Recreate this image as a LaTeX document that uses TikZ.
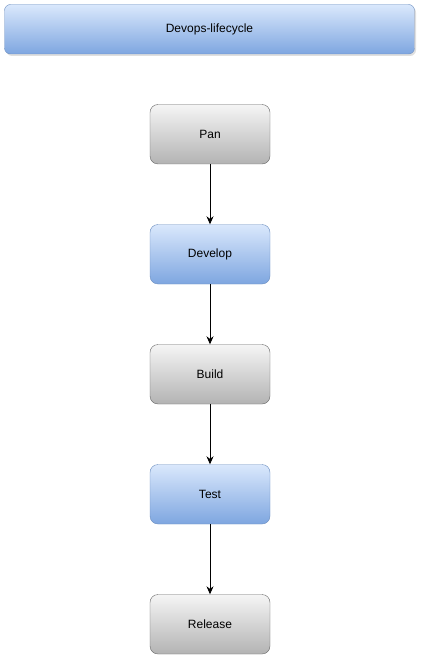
\documentclass[tikz,border=0pt]{standalone}
\usepackage{fontspec}
\setmainfont{Liberation Sans}
\usetikzlibrary{arrows.meta}
\usetikzlibrary{shadows}
\definecolor{bluetop}{HTML}{DAE8FC}
\definecolor{bluebot}{HTML}{7EA6E0}
\definecolor{blueline}{HTML}{6C8EBF}
\definecolor{graytop}{HTML}{F5F5F5}
\definecolor{graybot}{HTML}{B3B3B3}
\definecolor{grayline}{HTML}{666666}
\tikzstyle{stagebox}=[rectangle,rounded corners=8pt,minimum width=120pt,minimum height=59.5pt,inner sep=0pt,font=\fontsize{12}{14}\selectfont]
\tikzstyle{bluestage}=[stagebox,draw=blueline,top color=bluetop,bottom color=bluebot]
\tikzstyle{graystage}=[stagebox,draw=grayline,top color=graytop,bottom color=graybot]
\tikzstyle{flow}=[-{Stealth[length=8pt,width=7pt]},line width=0.8pt]
\begin{document}
\begin{tikzpicture}[x=1pt,y=-1pt]
\useasboundingbox (0,0) rectangle (422,655);
	% title bar
	\node[bluestage,minimum width=410pt,minimum height=49.5pt,rounded corners=6pt,
	      drop shadow={shadow xshift=1.5pt,shadow yshift=-2pt,opacity=0.25}] (title) at (209.5,29.25) {Devops-lifecycle};
	% stages
	\node[graystage] (pan) at (210,134.25) {Pan};
	\node[bluestage] (develop) at (210,254.25) {Develop};
	\node[graystage] (build) at (210,374.25) {Build};
	\node[bluestage] (test) at (210,494.25) {Test};
	\node[graystage] (release) at (210,624.25) {Release};
	\draw[flow] (pan) -- (develop);
	\draw[flow] (develop) -- (build);
	\draw[flow] (build) -- (test);
	\draw[flow] (test) -- (release);
\end{tikzpicture}
\end{document}
